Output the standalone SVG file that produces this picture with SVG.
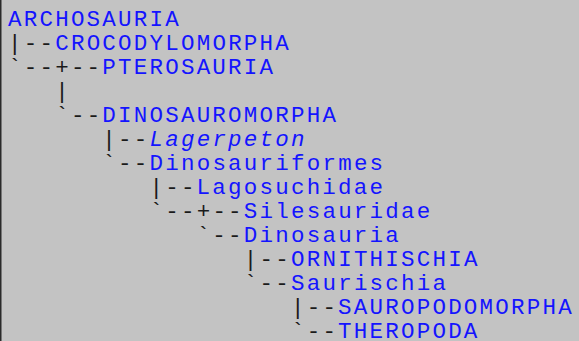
<svg xmlns="http://www.w3.org/2000/svg" width="579" height="341" viewBox="0 0 579 341">
  <style>
    text { font-family: "Liberation Mono", "Courier New", monospace; font-size: 22.5px; letter-spacing: 2.22px; white-space: pre; }
    .taxon { fill: #1414ff; }
    .it { font-style: italic; }
    .line { fill: #1a1a1a; }
  </style>
  <rect x="0" y="0" width="579" height="341" fill="#c3c3c3"/>
  <rect x="0" y="0" width="1.5" height="341" fill="#2a2a2a"/>

  <!-- tree connectors drawn as monospace characters; column width 15.72px -->
  <g id="connectors" class="line">
    <text x="8" y="50">|--</text>
    <text x="8" y="74">`--+--</text>
    <text x="55.2" y="98">|</text>
    <text x="55.2" y="122">`--</text>
    <text x="102.3" y="146">|--</text>
    <text x="102.3" y="170">`--</text>
    <text x="149.5" y="194">|--</text>
    <text x="149.5" y="218">`--+--</text>
    <text x="196.6" y="242">`--</text>
    <text x="243.8" y="266">|--</text>
    <text x="243.8" y="290">`--</text>
    <text x="291" y="314">|--</text>
    <text x="291" y="338">`--</text>
  </g>

  <g id="archosauria"><text class="taxon" x="8" y="26">ARCHOSAURIA</text></g>
  <g id="crocodylomorpha"><text class="taxon" x="55.2" y="50">CROCODYLOMORPHA</text></g>
  <g id="pterosauria"><text class="taxon" x="102.3" y="74">PTEROSAURIA</text></g>
  <g id="dinosauromorpha"><text class="taxon" x="102.3" y="122">DINOSAUROMORPHA</text></g>
  <g id="lagerpeton"><text class="taxon it" x="149.5" y="146">Lagerpeton</text></g>
  <g id="dinosauriformes"><text class="taxon" x="149.5" y="170">Dinosauriformes</text></g>
  <g id="lagosuchidae"><text class="taxon" x="196.6" y="194">Lagosuchidae</text></g>
  <g id="silesauridae"><text class="taxon" x="243.8" y="218">Silesauridae</text></g>
  <g id="dinosauria"><text class="taxon" x="243.8" y="242">Dinosauria</text></g>
  <g id="ornithischia"><text class="taxon" x="291" y="266">ORNITHISCHIA</text></g>
  <g id="saurischia"><text class="taxon" x="291" y="290">Saurischia</text></g>
  <g id="sauropodomorpha"><text class="taxon" x="338.1" y="314">SAUROPODOMORPHA</text></g>
  <g id="theropoda"><text class="taxon" x="338.1" y="338">THEROPODA</text></g>
</svg>
